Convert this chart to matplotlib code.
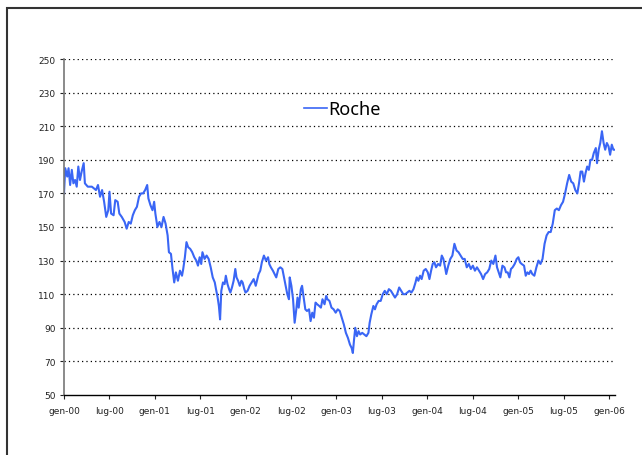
import matplotlib.pyplot as plt
from matplotlib.patches import Rectangle

## ===== data (months since Jan 2000, price) =====

months = [
    0.00, 0.16, 0.43, 0.60, 0.81, 1.03, 1.24, 1.46, 1.68, 1.89, 2.11, 2.33, 2.60, 2.76,
    3.14, 3.68, 4.22, 4.49, 4.76, 5.03, 5.30, 5.58, 5.85, 6.01, 6.22, 6.55, 6.77, 7.09,
    7.31, 7.63, 8.01, 8.28, 8.55, 8.82, 9.09, 9.36, 9.63, 9.91, 10.18, 10.45, 10.72, 10.99,
    11.15, 11.42, 11.69, 11.91, 12.07, 12.34, 12.61, 12.88, 13.15, 13.42, 13.69, 13.86,
    14.13, 14.34, 14.56, 14.78, 15.05, 15.32, 15.59, 15.75, 15.97, 16.18, 16.40, 16.67,
    16.94, 17.21, 17.48, 17.70, 17.92, 18.13, 18.29, 18.57, 18.84, 19.11, 19.38, 19.65,
    19.92, 20.08, 20.30, 20.46, 20.62, 20.78, 21.00, 21.22, 21.38, 21.60, 21.81, 21.98,
    22.19, 22.41, 22.63, 22.79, 23.00, 23.22, 23.44, 23.60, 23.82, 23.98, 24.25, 24.52,
    24.79, 25.06, 25.33, 25.49, 25.71, 25.93, 26.14, 26.41, 26.68, 26.96, 27.12, 27.33,
    27.60, 27.82, 28.04, 28.31, 28.58, 28.85, 29.07, 29.28, 29.50, 29.72, 29.82, 30.04,
    30.26, 30.47, 30.69, 30.85, 31.01, 31.29, 31.45, 31.66, 31.88, 32.10, 32.37, 32.58,
    32.80, 33.02, 33.23, 33.45, 33.72, 33.94, 34.15, 34.42, 34.64, 34.80, 35.07, 35.34,
    35.62, 35.89, 36.16, 36.43, 36.70, 36.97, 37.24, 37.51, 37.78, 38.00, 38.16, 38.32,
    38.48, 38.70, 38.92, 39.13, 39.40, 39.67, 39.95, 40.22, 40.38, 40.60, 40.87, 41.08,
    41.30, 41.57, 41.84, 42.11, 42.38, 42.65, 42.92, 43.19, 43.46, 43.73, 44.01, 44.28,
    44.55, 44.82, 45.09, 45.36, 45.63, 45.90, 46.17, 46.44, 46.60, 46.82, 47.04, 47.25,
    47.52, 47.79, 48.06, 48.28, 48.50, 48.71, 48.93, 49.15, 49.42, 49.69, 49.91, 50.12,
    50.34, 50.50, 50.77, 51.04, 51.31, 51.58, 51.86, 52.12, 52.40, 52.67, 52.94, 53.21,
    53.48, 53.75, 54.02, 54.29, 54.56, 54.83, 55.10, 55.37, 55.64, 55.91, 56.18, 56.45,
    56.72, 57.00, 57.21, 57.43, 57.65, 57.92, 58.19, 58.40, 58.62, 58.84, 59.05, 59.27,
    59.54, 59.81, 60.03, 60.24, 60.46, 60.78, 61.00, 61.22, 61.43, 61.65, 61.87, 62.14,
    62.41, 62.68, 62.95, 63.22, 63.49, 63.76, 64.03, 64.30, 64.57, 64.84, 65.11, 65.38,
    65.66, 65.93, 66.20, 66.47, 66.74, 67.01, 67.28, 67.55, 67.82, 68.04, 68.25, 68.47,
    68.69, 68.90, 69.12, 69.34, 69.55, 69.77, 69.99, 70.26, 70.42, 70.64, 70.85, 71.07,
    71.29, 71.50, 71.72, 71.94, 72.15, 72.37, 72.58, 72.80,
]

roche = [
    170, 185, 180, 185, 175, 184, 176, 178, 174, 186, 178, 183, 188, 176,
    174, 174, 172, 175, 168, 172, 165, 156, 160, 171, 158, 157, 166, 165,
    158, 156, 153, 149, 153, 152, 157, 160, 162, 168, 170, 170, 172, 175,
    167, 163, 160, 165, 158, 150, 153, 150, 156, 152, 145, 135,
    134, 125, 117, 123, 118, 124, 121, 125, 132, 141, 138, 137,
    135, 132, 130, 127, 132, 128, 135, 131, 133, 131, 126, 120,
    117, 113, 108, 103, 95, 112, 117, 116, 121, 116, 113, 111,
    114, 118, 125, 120, 118, 115, 118, 117, 113, 111, 112, 115,
    117, 119, 115, 118, 122, 124, 129, 133, 130, 132, 128, 126,
    124, 122, 120, 125, 126, 125, 120, 115, 110, 107, 120, 115,
    107, 93, 101, 108, 102, 113, 115, 108, 101, 100, 101, 94,
    99, 96, 105, 104, 103, 102, 107, 104, 109, 107, 106, 102,
    101, 99, 101, 100, 96, 92, 87, 84, 80, 78, 75, 83,
    90, 85, 88, 86, 87, 86, 85, 87, 93, 98, 103, 101,
    104, 106, 106, 110, 112, 110, 113, 112, 110, 108, 110, 114,
    112, 110, 110, 111, 112, 111, 113, 117, 120, 118, 121, 119,
    124, 125, 123, 119, 124, 128, 129, 126, 128, 127, 133, 131,
    126, 122, 127, 131, 133, 140, 136, 135, 133, 131, 131, 126,
    128, 125, 127, 124, 126, 124, 122, 119, 122, 123, 125, 130,
    128, 133, 126, 123, 120, 127, 126, 123, 123, 120, 125, 126,
    128, 131, 132, 129, 128, 127, 121, 123, 122, 124, 122, 121,
    126, 130, 128, 131, 140, 145, 147, 147, 152, 160, 161, 160,
    163, 165, 170, 176, 181, 177, 176, 172, 170, 176, 183, 183,
    177, 182, 186, 184, 190, 190, 194, 197, 188, 196, 200, 207,
    200, 196, 200, 198, 193, 199, 196, 196,
]

tick_months = [0, 6, 12, 18, 24, 30, 36, 42, 48, 54, 60, 66, 72]
tick_labels = ['gen-00', 'lug-00', 'gen-01', 'lug-01', 'gen-02', 'lug-02', 'gen-03',
               'lug-03', 'gen-04', 'lug-04', 'gen-05', 'lug-05', 'gen-06']
y_ticks = [50, 70, 90, 110, 130, 150, 170, 190, 210, 230, 250]

## ===== plot =====

fig = plt.figure(figsize=(6.42, 4.56), dpi=100)
ax = fig.add_axes([0.0997, 0.1316, 0.8583, 0.7368])

# outer frame of the chart area
fig.patches.append(Rectangle((7/642, -0.1), 1.0, 1.0 - 9/456 + 0.1,
                             transform=fig.transFigure, fill=False,
                             edgecolor='#333333', linewidth=1.5))

ax.plot(months, roche, color='#3a66f5', linewidth=1.5, label='Roche')

ax.set_xlim(0, 72.8)
ax.set_ylim(50, 250)
ax.set_yticks(y_ticks)
ax.set_xticks(tick_months)
ax.set_xticklabels(tick_labels)

for y in y_ticks[1:]:
    ax.axhline(y, color='black', linestyle=(0, (1, 2.5)), linewidth=0.9, zorder=0)

for side in ['top', 'right']:
    ax.spines[side].set_visible(False)
ax.spines['left'].set_color('#777777')
ax.spines['left'].set_linewidth(1.2)
ax.spines['bottom'].set_color('black')
ax.spines['bottom'].set_linewidth(1.0)

ax.tick_params(axis='both', direction='out', length=3, width=0.8,
               labelsize=6.5, colors='#222222')
ax.tick_params(axis='x', pad=5)
ax.tick_params(axis='y', pad=3)

leg = ax.legend(loc='center', bbox_to_anchor=(0.505, 0.851), frameon=False,
                handlelength=1.3, handletextpad=0.05,
                prop={'family': 'Noto Sans', 'size': 13})
for line in leg.get_lines():
    line.set_linewidth(1.2)

fig.savefig('out.png', dpi=100)
